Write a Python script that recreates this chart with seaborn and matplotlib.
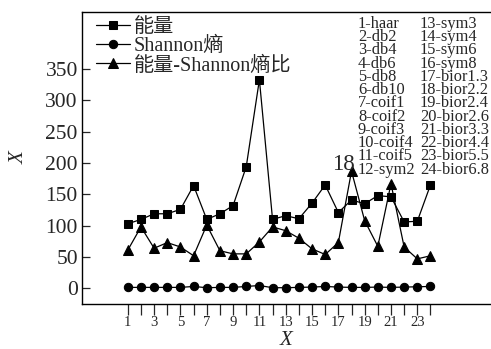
import matplotlib
matplotlib.use("Agg")
import matplotlib.pyplot as plt
import seaborn as sns
import pandas as pd
import numpy as np

sns.set_style("ticks")
plt.rcParams['font.family'] = ['Liberation Serif', 'Noto Sans CJK SC']

x_vals = list(range(1, 25))
energy = [103, 110, 119, 119, 126, 164, 110, 119, 132, 194, 333, 110,
          116, 111, 136, 165, 121, 141, 135, 148, 146, 106, 107, 165]
shannon = [1.5, 1.5, 1.5, 1.5, 1.5, 3, 1, 1.5, 1.5, 3, 4.5, 1,
           1, 1.5, 2, 3, 2, 1.5, 1.5, 2, 1.5, 2, 2.5, 3]
ratio = [61, 98, 64, 73, 66, 52, 101, 60, 55, 55, 74, 98,
         92, 80, 63, 54, 73, 187, 108, 67, 167, 66, 47, 52]
series_names = ["能量", "Shannon熵", "能量-Shannon熵比"]
wavelets = ["1-haar", "2-db2", "3-db4", "4-db6", "5-db8", "6-db10", "7-coif1",
            "8-coif2", "9-coif3", "10-coif4", "11-coif5", "12-sym2",
            "13-sym3", "14-sym4", "15-sym6", "16-sym8", "17-bior1.3", "18-bior2.2",
            "19-bior2.4", "20-bior2.6", "21-bior3.3", "22-bior4.4", "23-bior5.5", "24-bior6.8"]
y_ticks = [0, 50, 100, 150, 200, 250, 300, 350]

fig = plt.figure(figsize=(4.91, 3.49), dpi=100)
ax = fig.add_axes([82/491, 1-304/349, 1-82/491, (304-12)/349])

df = pd.DataFrame({"x": x_vals * 3,
                   "y": energy + shannon + ratio,
                   "s": [series_names[0]]*24 + [series_names[1]]*24 + [series_names[2]]*24})
markers = {series_names[0]: "s", series_names[1]: "o", series_names[2]: "^"}
sizes = {series_names[0]: 5.5, series_names[1]: 6, series_names[2]: 6.5}
for name in series_names:
    sns.lineplot(data=df[df.s == name], x="x", y="y", ax=ax, color="black",
                 marker=markers[name], markersize=sizes[name], linewidth=0.9,
                 markeredgecolor="black", markerfacecolor="black", label=name)

ax.set_xlim(-2.48, 28.6)
ax.set_ylim(-25, 441)
ax.set_yticks(y_ticks)
ax.set_yticklabels([str(v) for v in y_ticks], fontsize=15.5)
ax.set_xticks(x_vals)
ax.set_xticklabels([str(v) if v % 2 == 1 else "" for v in x_vals], fontsize=10.5)
ax.tick_params(axis='y', direction='in', length=6, width=0.9, pad=3)
ax.tick_params(axis='x', direction='out', length=8, width=0.9, pad=1)
for sp in ["left", "bottom", "top"]:
    ax.spines[sp].set_linewidth(1.0)
    ax.spines[sp].set_color("black")
ax.spines["right"].set_visible(False)

ax.set_xlabel("X", fontsize=15, fontstyle="italic", labelpad=1)
ax.set_ylabel("X", fontsize=15, fontstyle="italic", labelpad=12)

leg = ax.legend(loc="upper left", frameon=False, fontsize=14.5, handlelength=1.7,
                handletextpad=0.15, labelspacing=0.0, borderaxespad=0.0,
                borderpad=0.3, bbox_to_anchor=(0.02, 1.0))

ax.text(17.4, 181, "18", fontsize=16.5, ha="center", va="bottom")

col1 = "\n".join(wavelets[:12])
col2 = "\n".join(wavelets[12:])
fig.text(358/491, 1-16/349, col1, fontsize=11.8, va="top", ha="left", linespacing=0.77)
fig.text(420/491, 1-16/349, col2, fontsize=11.8, va="top", ha="left", linespacing=0.77)

fig.savefig("out.png", dpi=100)
